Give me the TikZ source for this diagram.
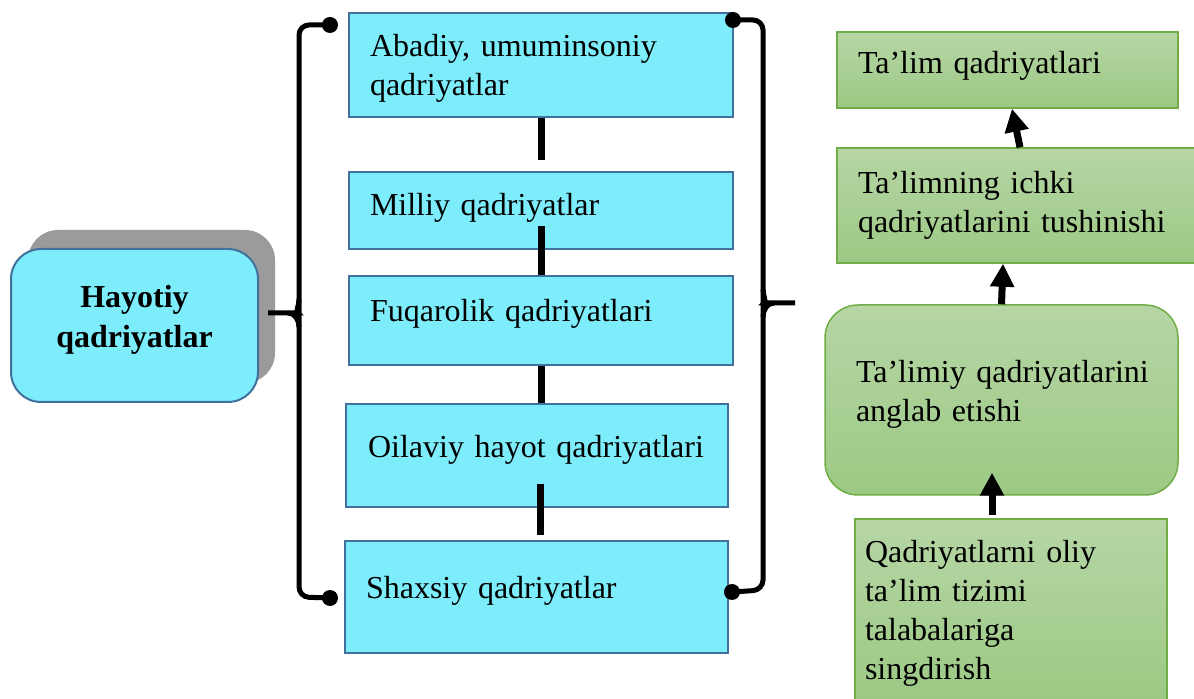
\documentclass[tikz,border=0pt]{standalone}
\usepackage{fontspec}
\setmainfont{Liberation Serif}
\usetikzlibrary{arrows.meta,shadows}

\definecolor{boxblue}{RGB}{125,237,252}
\definecolor{lineblue}{RGB}{65,113,156}
\definecolor{greentop}{RGB}{182,214,165}
\definecolor{greenbot}{RGB}{156,201,132}
\definecolor{linegreen}{RGB}{112,173,71}
\definecolor{shadowgray}{RGB}{155,155,155}

\begin{document}
\begin{tikzpicture}[x=0.5pt,y=-0.5pt,font=\fontsize{16}{19.5}\selectfont,
    bluebox/.style={draw=lineblue,line width=1pt,fill=boxblue,align=left,inner sep=0pt},
    greenbox/.style={draw=linegreen,line width=0.75pt,top color=greentop,bottom color=greenbot,align=left,inner sep=0pt},
    brace/.style={line width=2.5pt,rounded corners=5pt},
    link/.style={line width=3.5pt},
    uparr/.style={line width=3.5pt,-{Triangle[width=11.5pt,length=11.5pt]}}]

    \useasboundingbox (0,0) rectangle (1194,699);

    % main value
    \node[draw=lineblue,line width=1pt,fill=boxblue,rounded corners=15pt,
          minimum width=123.5pt,minimum height=76.5pt,align=center,text depth=9.5pt,
          font=\bfseries\fontsize{16}{20}\selectfont,
          drop shadow={shadow xshift=8.5pt,shadow yshift=9.5pt,fill=shadowgray,opacity=1}]
          (hay) at (134.5,325.5) {Hayotiy\\qadriyatlar};

    % blue column
    \node[bluebox,minimum width=192pt,minimum height=52pt,text width=171pt,text depth=20pt](m1) at (541,65) {Abadiy, umuminsoniy\\qadriyatlar};
    \node[bluebox,minimum width=192pt,minimum height=38.5pt,text width=171pt,text depth=6.5pt](m2) at (541,210.5) {Milliy qadriyatlar};
    \node[bluebox,minimum width=192pt,minimum height=44.5pt,text width=171pt,text depth=10.5pt](m3) at (541,320.5) {Fuqarolik qadriyatlari};
    \node[bluebox,minimum width=191pt,minimum height=51.5pt,text width=169pt,text depth=9.5pt](m4) at (537,455.5) {\mbox{Oilaviy hayot qadriyatlari}};
    \node[bluebox,minimum width=191.5pt,minimum height=56pt,text width=170.5pt,text depth=9.5pt](m5) at (536.5,597) {Shaxsiy qadriyatlar};

    \draw[link,shorten >=5.5pt] (m1.south) -- (m2.north);
    \draw[link] ([yshift=12pt]m2.south) -- (m3.north);
    \draw[link] (m3.south) -- (m3.south |- m4.north);
    \draw[link,shorten >=2.5pt] ([xshift=1.5pt,yshift=12pt]m4.south) -- ([xshift=1.75pt]m5.north);

    % green column
    \node[greenbox,minimum width=170.5pt,minimum height=38pt,text width=149.5pt,text depth=7.5pt](g1) at (1007.5,70) {Ta’lim qadriyatlari};
    \node[greenbox,minimum width=181.5pt,minimum height=57.5pt,text width=160.5pt](g2) at (1018.5,205.5) {Ta’limning ichki\\\mbox{qadriyatlarini tushinishi}};
    \node[greenbox,rounded corners=16.5pt,minimum width=176.5pt,minimum height=95pt,text width=145.5pt,text depth=29pt](g3) at (1001.5,400) {\mbox{Ta’limiy qadriyatlarini}\\anglab etishi};
    \node[greenbox,minimum width=156pt,minimum height=91.5pt,text width=146pt,text depth=59.5pt](g4) at (1011,610.5) {Qadriyatlarni oliy\\ta’lim tizimi\\talabalariga\\singdirish};

    \draw[uparr] ([xshift=-9.5pt,yshift=1.5pt]g4.north) -- ([xshift=-4.75pt,yshift=11.5pt]g3.south);
    \draw[uparr] (g3.north) -- ([xshift=-7.75pt]g2.south);
    \draw[uparr] ([xshift=0.75pt]g2.north) -- ([xshift=2.25pt]g1.south);

    % braces
    \coordinate (lt) at (330,25);
    \coordinate (lb) at (330,598);
    \coordinate (lc) at (288,313);
    \coordinate (rt) at (733,20);
    \coordinate (rb) at (732,592);
    \coordinate (rc) at (774,303);
    \coordinate (rs) at (795,303);

    \draw[brace] (lt) -| (299,597) -- (lb);
    \draw[brace] (299,299) to[out=-90,in=0] (lc) -- ([xshift=4.5pt]hay.east |- lc);
    \draw[brace] (299,327) to[out=90,in=0] (lc);

    \draw[brace] (rt) -| (763,590) -- (rb);
    \draw[brace] (763,289) to[out=-90,in=180] (rc) -- (rs);
    \draw[brace] (763,317) to[out=90,in=180] (rc);

    \fill (lt) circle (8);
    \fill (lb) circle (8);
    \fill (rt) circle (8);
    \fill (rb) circle (8);

\end{tikzpicture}
\end{document}
